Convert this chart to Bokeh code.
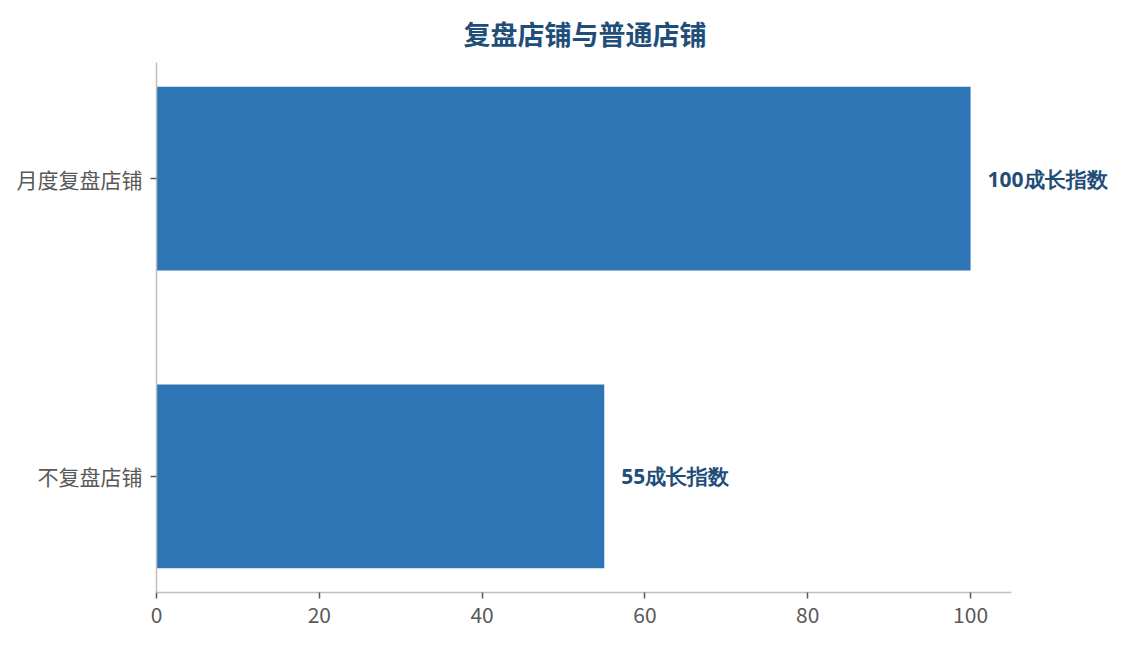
from bokeh.plotting import figure
from bokeh.models import ColumnDataSource, FixedTicker, Range1d, LabelSet
from bokeh.core.properties import value
from bokeh.embed import file_html
from bokeh.resources import INLINE

title_text = "复盘店铺与普通店铺"
categories = ["不复盘店铺", "月度复盘店铺"]
values = [55, 100]
label_suffix = "成长指数"
x_ticks = [0, 20, 40, 60, 80, 100]

FONT = "Noto Sans CJK SC"
BOLD_FONT = "Open Sans"
BAR_COLOR = "#2e75b6"
DARK = "#1f4e79"

ypos = list(range(len(categories)))
src = ColumnDataSource(dict(
    y=ypos,
    v=values,
    lab=[f"{v}{label_suffix}" for v in values],
))

p = figure(width=1120, height=637, output_backend="svg", toolbar_location=None,
           x_range=Range1d(0, 117.8), y_range=Range1d(-0.39, len(categories) - 1 + 0.39),
           min_border_left=156, min_border_right=5, min_border_top=62, min_border_bottom=45,
           title=title_text)
p.outline_line_color = None
p.background_fill_color = "white"
p.border_fill_color = "white"

p.title.align = "left"
p.title.offset = 307
p.title.text_font = FONT
p.title.text_font_size = "27px"
p.title.text_font_style = "bold"
p.title.text_color = DARK
p.title.standoff = 20

p.hbar(y="y", right="v", left=0, height=0.617, source=src, color=BAR_COLOR, line_color=None)

labels = LabelSet(x="v", y="y", text="lab", source=src, x_offset=17,
                  text_align="left", text_baseline="middle",
                  text_font=value(BOLD_FONT), text_font_size=value("21px"),
                  text_font_style=value("bold"), text_color=value(DARK))
p.add_layout(labels)

p.xgrid.grid_line_color = None
p.ygrid.grid_line_color = None

p.xaxis.ticker = FixedTicker(ticks=x_ticks)
p.xaxis.bounds = (0, 105)
p.yaxis.ticker = FixedTicker(ticks=ypos)
p.yaxis.major_label_overrides = {i: c for i, c in zip(ypos, categories)}

for ax in (p.xaxis[0], p.yaxis[0]):
    ax.axis_line_color = "#bfbfbf"
    ax.axis_line_width = 1.5
    ax.major_tick_line_color = "#595959"
    ax.major_tick_line_width = 1.5
    ax.major_tick_out = 6
    ax.major_tick_in = 0
    ax.minor_tick_line_color = None
    ax.major_label_text_font = FONT
    ax.major_label_text_font_size = "21px"
    ax.major_label_text_color = "#595959"
    ax.major_label_standoff = 8

open("out.html", "w").write(file_html(p, INLINE))
